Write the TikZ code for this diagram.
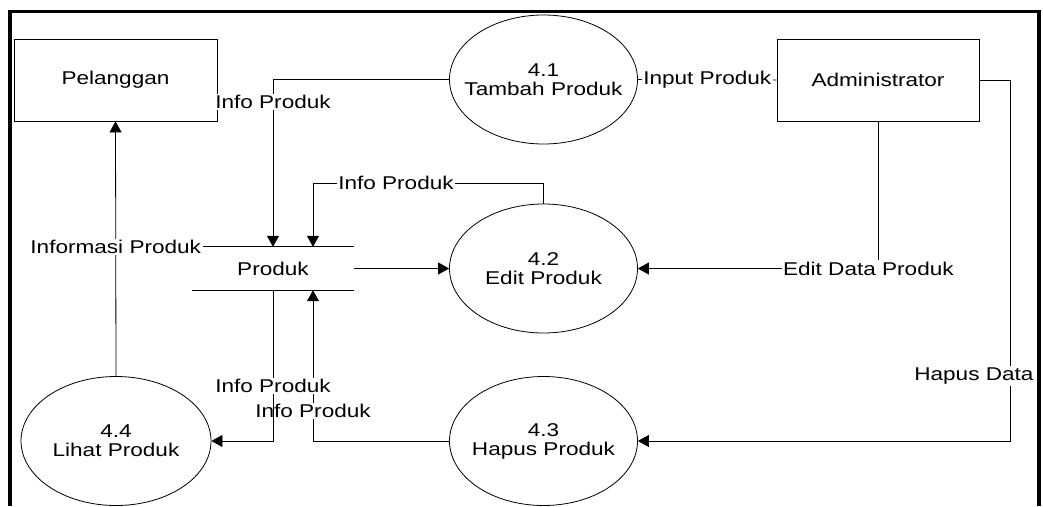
\documentclass[tikz,border=0pt]{standalone}
\usepackage{fontspec}
\setmainfont{Liberation Sans}[FakeStretch=1.22]
\usetikzlibrary{arrows.meta,shapes.geometric}
\begin{document}
\begin{tikzpicture}[x=1pt,y=-1pt,
  every node/.style={font=\fontsize{18.5}{19}\selectfont},
  flow/.style={draw, line width=0.8pt, -{Triangle[length=11pt,width=12pt]}},
  plain/.style={draw, line width=0.8pt},
  lbl/.style={fill=white, inner sep=1.5pt},
  proc/.style={ellipse, draw, line width=0.8pt, minimum width=188pt, minimum height=129pt, inner sep=0pt},
  ptext/.style={label={[align=center, font=\fontsize{18.5}{19}\selectfont]center:#1}},
  ent/.style={rectangle, draw, line width=0.8pt, minimum width=203pt, minimum height=82pt},
  store/.style={rectangle, minimum width=162pt, minimum height=43pt}]
\useasboundingbox (0,0) rectangle (1043,506);
\draw[line width=3.5pt] (10,506) -- (10,11.5) -- (1039,11.5) -- (1039,506);

\node[ent] (pel) at (115.5,80) {Pelanggan};
\node[ent, minimum width=202pt] (adm) at (878,80) {Administrator};
\node[proc, ptext={4.1\\Tambah Produk}] (p41) at (543.5,79.5) {};
\node[proc, ptext={4.2\\Edit Produk}] (p42) at (543.5,268.5) {};
\node[proc, ptext={4.3\\Hapus Produk}] (p43) at (543.5,441) {};
\node[proc, minimum width=190pt, ptext={4.4\\Lihat Produk}] (p44) at (116,441) {};
\node[store] (ds) at (273,268.5) {Produk};
\draw[line width=0.8pt] (ds.north west) -- (ds.north east);
\draw[line width=0.8pt] (ds.south west) -- (ds.south east);

% Informasi Produk
\draw[flow] (p44.north) -- node[lbl, pos=0.507]{Informasi Produk} (pel.south);
% 4.1 -> Produk
\draw[flow] (p41.west) -| node[lbl, pos=0.567]{Info Produk} (ds.north);
% 4.2 -> Produk
\draw[flow] (p42.north) -- ++(0,-20.5) -| node[lbl, pos=0.32]{Info Produk} ([xshift=40pt]ds.north);
% Produk -> 4.2
\draw[flow] (ds.east) -- (p42.west);
% Administrator -> 4.2
\draw[flow] (adm.south) |- node[lbl, pos=0.52]{Edit Data Produk} (p42.east);
% Administrator -> 4.3
\draw[flow] (adm.east) -- ++(31,0) |- node[lbl, pos=0.41, xshift=-36.5pt]{Hapus Data} (p43.east);
% Input Produk
\draw[plain] (p41.east) -- node[lbl]{Input Produk} (adm.west);
% 4.3 -> Produk
\draw[flow] (p43.west) -| node[lbl, pos=0.6]{Info Produk} ([xshift=40pt]ds.south);
% Produk -> 4.4
\draw[flow] (ds.south) |- node[lbl, pos=0.318]{Info Produk} (p44.east);
\end{tikzpicture}
\end{document}
